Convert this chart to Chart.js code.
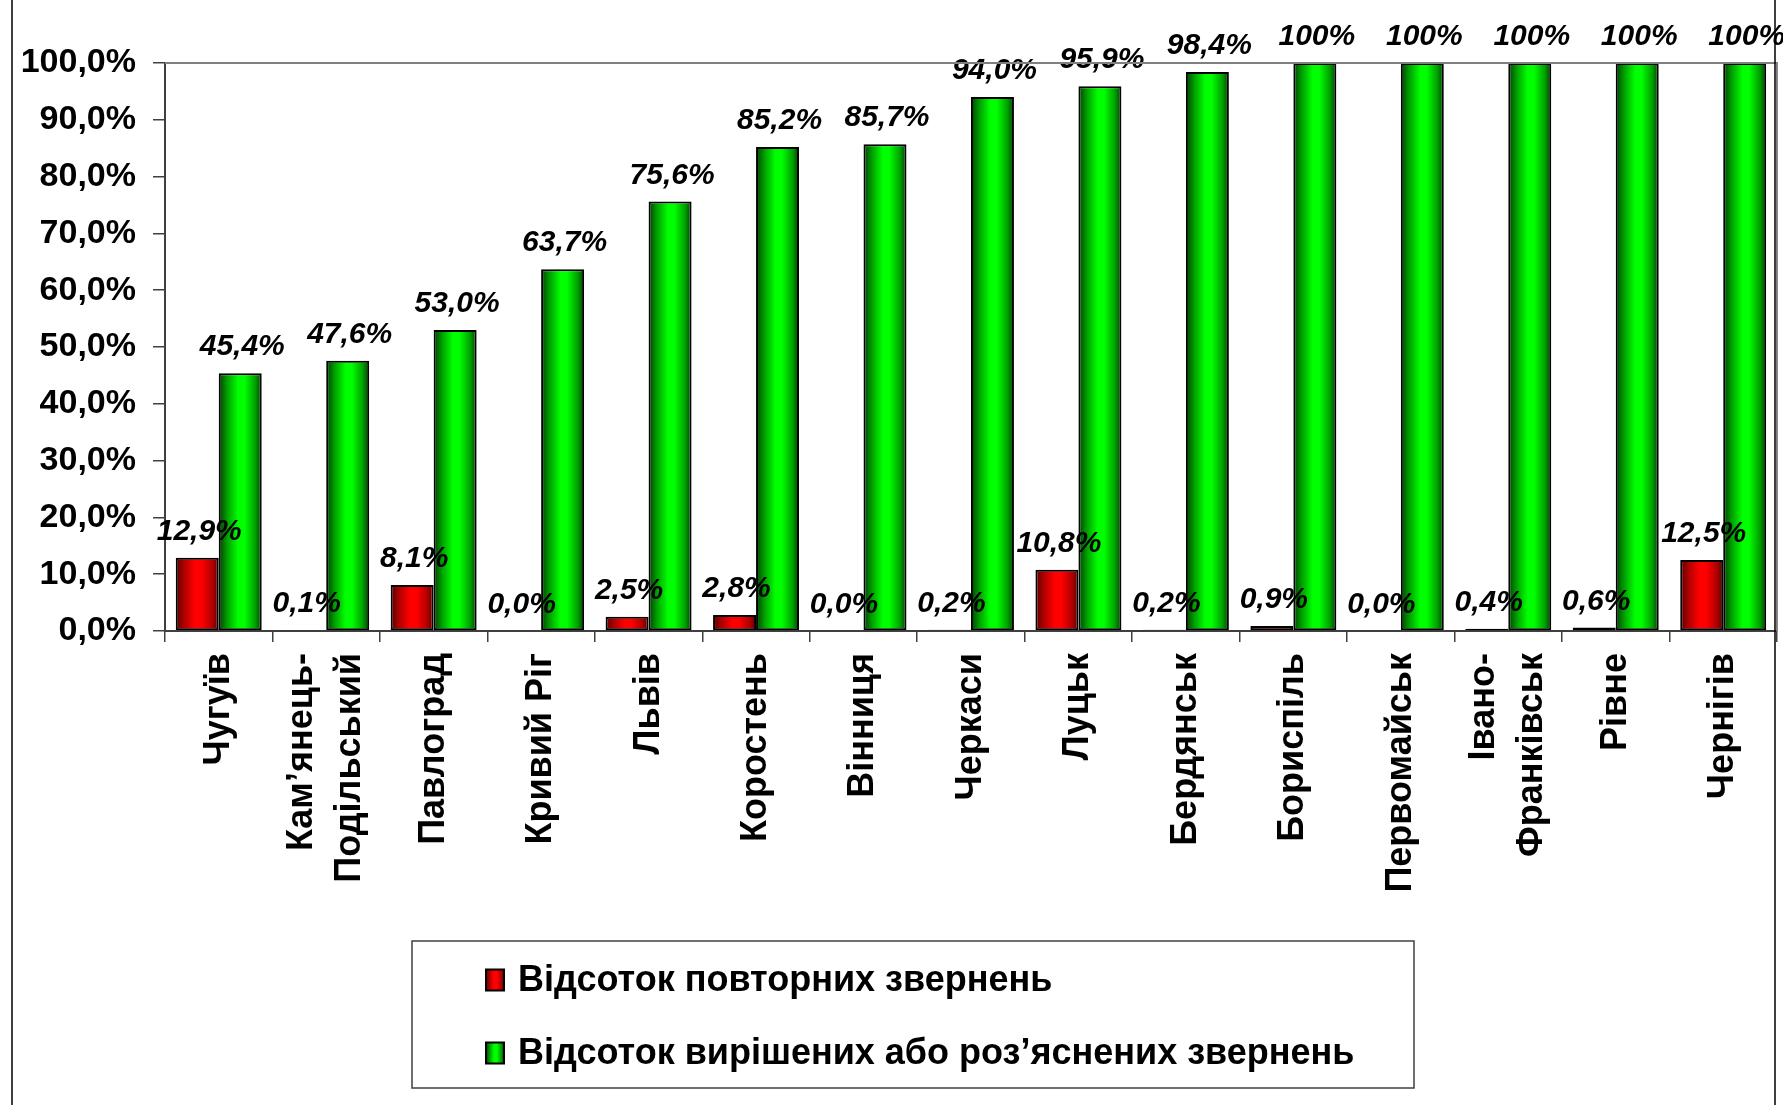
<!DOCTYPE html>
<html lang="uk">
<head>
<meta charset="utf-8">
<title>Відсоток повторних та вирішених звернень</title>
<script src="https://cdn.jsdelivr.net/npm/chart.js@4.4.1/dist/chart.umd.min.js"></script>
<style>
  html, body { margin: 0; padding: 0; background: #ffffff; }
  canvas { display: block; }
</style>
</head>
<body>
<canvas id="grafico" width="1783" height="1105"></canvas>
<script>
const cities = [
  "Чугуїв",
  ["Кам’янець-", "Подільський"],
  "Павлоград",
  "Кривий Ріг",
  "Львів",
  "Коростень",
  "Вінниця",
  "Черкаси",
  "Луцьк",
  "Бердянськ",
  "Бориспіль",
  "Первомайськ",
  ["Івано-", "Франківськ"],
  "Рівне",
  "Чернігів"
];

const repeatedShare = [12.9, 0.1, 8.1, 0.0, 2.5, 2.8, 0.0, 0.2, 10.8, 0.2, 0.9, 0.0, 0.4, 0.6, 12.5];
const resolvedShare = [45.4, 47.6, 53.0, 63.7, 75.6, 85.2, 85.7, 94.0, 95.9, 98.4, 100, 100, 100, 100, 100];

const seriesNames = [
  "Відсоток повторних звернень",
  "Відсоток вирішених або роз’яснених звернень"
];

const yTicks = [0, 10, 20, 30, 40, 50, 60, 70, 80, 90, 100];

const CHART_W = 1783;
const CHART_H = 1105;
const AREA_LEFT = 165;
const AREA_TOP = 63;
const AREA_BOTTOM = 631;
const AREA_RIGHT = 1777;

const palette = [
  { dark: "#5a0000", mid: "#b00000", light: "#ff0000" },
  { dark: "#004000", mid: "#00a000", light: "#00ff00" }
];

function formatPercent(value) {
  if (value === 100) {
    return "100%";
  }
  return value.toFixed(1).replace(".", ",") + "%";
}

function makeGradient(ctx, x0, x1, colors) {
  const g = ctx.createLinearGradient(x0, 0, x1, 0);
  g.addColorStop(0, colors.dark);
  g.addColorStop(0.2, colors.mid);
  g.addColorStop(0.45, colors.light);
  g.addColorStop(0.6, colors.light);
  g.addColorStop(0.85, colors.mid);
  g.addColorStop(1, colors.dark);
  return g;
}

function barFill(context) {
  const chart = context.chart;
  const colors = palette[context.datasetIndex];
  const xScale = chart.scales.x;
  if (!chart.chartArea || !xScale) {
    return colors.light;
  }
  const catW = xScale.width / cities.length;
  const barW = catW * 0.8 / 2;
  const left = xScale.getPixelForValue(context.dataIndex) - catW * 0.4 + context.datasetIndex * barW;
  return makeGradient(chart.ctx, left, left + barW, colors);
}

// двострочные подписи оси X: центрируем пару строк на делении
const centerTwoLine = {
  id: "centerTwoLine",
  beforeDraw(chart) {
    const items = chart.scales.x.getLabelItems();
    items.forEach((item) => {
      if (Array.isArray(item.label) && !item.centered) {
        item.options.translation[0] -= (item.label.length - 1) * item.font.lineHeight / 2;
        item.centered = true;
      }
    });
  }
};

// подписи значений над столбиками
const valueLabels = {
  id: "valueLabels",
  afterDatasetsDraw(chart) {
    const ctx = chart.ctx;
    ctx.save();
    ctx.font = "italic bold 30px 'Liberation Sans', Arial, sans-serif";
    ctx.fillStyle = "#000000";
    ctx.textAlign = "center";
    ctx.textBaseline = "alphabetic";
    chart.data.datasets.forEach((ds, di) => {
      const meta = chart.getDatasetMeta(di);
      meta.data.forEach((bar, i) => {
        ctx.fillText(formatPercent(ds.data[i]), bar.x + 2, bar.y - 18);
      });
    });
    ctx.restore();
  }
};

// рамки: область построения, внешняя рамка, легенда
const frameAndLegend = {
  id: "frameAndLegend",
  beforeDraw(chart) {
    const ctx = chart.ctx;
    ctx.save();
    ctx.fillStyle = "#ffffff";
    ctx.fillRect(0, 0, CHART_W, CHART_H);
    ctx.restore();
  },
  afterDraw(chart) {
    const ctx = chart.ctx;
    const area = chart.chartArea;
    ctx.save();

    ctx.strokeStyle = "#808080";
    ctx.lineWidth = 2;
    ctx.beginPath();
    ctx.moveTo(area.left, area.top);
    ctx.lineTo(area.right, area.top);
    ctx.lineTo(area.right, area.bottom);
    ctx.stroke();

    ctx.strokeStyle = "#000000";
    ctx.lineWidth = 1.5;
    ctx.beginPath();
    ctx.moveTo(12, 0);
    ctx.lineTo(12, CHART_H);
    ctx.moveTo(1775, 0);
    ctx.lineTo(1775, CHART_H);
    ctx.stroke();

    // легенда
    const box = { x: 412, y: 941, w: 1002, h: 147 };
    ctx.strokeStyle = "#404040";
    ctx.lineWidth = 1.5;
    ctx.strokeRect(box.x, box.y, box.w, box.h);

    const rows = [980, 1053];
    ctx.font = "bold 36px 'Liberation Sans', Arial, sans-serif";
    ctx.textBaseline = "middle";
    ctx.textAlign = "left";
    chart.data.datasets.forEach((ds, di) => {
      const cy = rows[di];
      const mx = 486;
      const mw = 18;
      const mh = 21;
      ctx.fillStyle = makeGradient(ctx, mx, mx + mw, palette[di]);
      ctx.fillRect(mx, cy - mh / 2, mw, mh);
      ctx.strokeStyle = "#000000";
      ctx.lineWidth = 2;
      ctx.strokeRect(mx, cy - mh / 2, mw, mh);
      ctx.fillStyle = "#000000";
      ctx.fillText(ds.label, 518, cy + 1);
    });

    ctx.restore();
  }
};

const grafico = new Chart(document.getElementById("grafico"), {
  type: "bar",
  data: {
    labels: cities,
    datasets: [
      {
        label: seriesNames[0],
        data: repeatedShare,
        backgroundColor: barFill,
        borderColor: "#000000",
        borderWidth: 2,
        borderSkipped: false
      },
      {
        label: seriesNames[1],
        data: resolvedShare,
        backgroundColor: barFill,
        borderColor: "#000000",
        borderWidth: 2,
        borderSkipped: false
      }
    ]
  },
  options: {
    responsive: false,
    devicePixelRatio: 1,
    animation: false,
    datasets: {
      bar: {
        categoryPercentage: 0.8,
        barPercentage: 1.0
      }
    },
    layout: {
      padding: {
        left: 0,
        right: CHART_W - AREA_RIGHT,
        top: AREA_TOP,
        bottom: 0
      }
    },
    plugins: {
      legend: { display: false },
      tooltip: { enabled: false },
      title: { display: false }
    },
    scales: {
      x: {
        grid: {
          offset: true,
          drawOnChartArea: false,
          drawTicks: true,
          tickLength: 11,
          color: "#404040",
          lineWidth: 1.5
        },
        border: {
          display: true,
          color: "#404040",
          width: 2
        },
        ticks: {
          autoSkip: false,
          minRotation: 90,
          maxRotation: 90,
          padding: 11,
          color: "#000000",
          font: {
            family: "'Liberation Sans', Arial, sans-serif",
            size: 36,
            weight: "bold",
            lineHeight: 1.35
          }
        },
        afterFit(scale) {
          scale.height = CHART_H - AREA_BOTTOM;
        }
      },
      y: {
        min: 0,
        max: 100,
        afterBuildTicks(scale) {
          scale.ticks = yTicks.map((v) => ({ value: v }));
        },
        grid: {
          drawOnChartArea: false,
          drawTicks: true,
          tickLength: 12,
          color: "#404040",
          lineWidth: 1.5
        },
        border: {
          display: true,
          color: "#404040",
          width: 2
        },
        ticks: {
          padding: 17,
          color: "#000000",
          callback: (v) => v.toFixed(1).replace(".", ",") + "%",
          font: {
            family: "'Liberation Sans', Arial, sans-serif",
            size: 34,
            weight: "bold"
          }
        },
        afterFit(scale) {
          scale.width = AREA_LEFT;
        }
      }
    }
  },
  plugins: [centerTwoLine, valueLabels, frameAndLegend]
});
</script>
</body>
</html>
